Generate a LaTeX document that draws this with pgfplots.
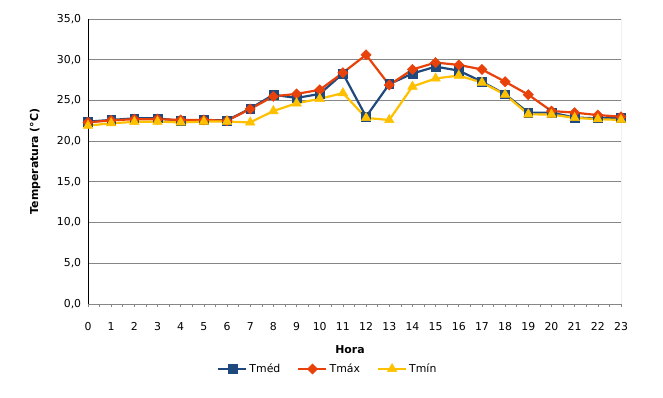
\documentclass[border=0pt]{standalone}
\usepackage{pgfplots}
\pgfplotsset{compat=1.18}
\usepackage{fontspec}
\setmainfont{DejaVu Sans}
\definecolor{cmed}{RGB}{31,73,125}
\definecolor{cmax}{RGB}{232,65,10}
\definecolor{cmin}{RGB}{255,192,0}
\definecolor{gridc}{RGB}{134,134,134}
\begin{document}
\fontsize{10.9}{13}\selectfont
\begin{tikzpicture}
\path[use as bounding box] (-88pt,-94pt) rectangle (575pt,304pt);
\begin{axis}[
  at={(0pt,0pt)}, anchor=south west,
  scale only axis, width=533pt, height=285pt,
  xmin=0, xmax=23, ymin=0, ymax=35,
  xtick={0,...,23}, minor x tick num=1,
  ytick={0,5,...,35},
  axis x line*=bottom, axis y line*=left,
  x axis line style={gridc, line width=0.8pt},
  y axis line style={black, line width=0.8pt},
  tick align=outside,
  major tick length=3pt, minor tick length=3pt,
  xtick style={gridc, line width=0.6pt},
  minor x tick style={gridc, line width=0.6pt},
  ytick style={draw=none},
  ymajorgrids, grid style={gridc, line width=0.8pt},
  /pgf/number format/assume math mode=true,
  yticklabel style={/pgf/number format/.cd, fixed, fixed zerofill, precision=1, use comma},
  xticklabel style={yshift=-12pt},
  xlabel={\textbf{Hora}},
  xlabel style={at={(axis description cs:0.4916,-0.1614)}, anchor=center},
  ylabel={\textbf{Temperatura (°C)}},
  ylabel style={at={(axis description cs:-0.0994,0.5)}, anchor=center},
  legend columns=3,
  legend style={at={(axis description cs:0.450,-0.228)}, anchor=center, draw=none, fill=none,
    /tikz/every even column/.append style={column sep=15pt}},
  legend image code/.code={\draw[mark repeat=2, mark phase=2, #1] plot coordinates {(0pt,0pt) (14pt,0pt) (28pt,0pt)};},
  every axis plot/.append style={line width=2.2pt},
]
\addplot[color=cmed, mark=square*, mark size=4.4pt, mark options={solid, line width=0.5pt}]
 coordinates {(0,22.4)(1,22.6)(2,22.8)(3,22.8)(4,22.5)(5,22.6)(6,22.55)(7,24.0)(8,25.7)(9,25.3)(10,25.8)(11,28.3)(12,23.0)(13,27.0)(14,28.3)(15,29.15)(16,28.66)(17,27.3)(18,25.76)(19,23.5)(20,23.5)(21,22.9)(22,22.8)(23,22.9)};
\addlegendentry{Tméd}
\addplot[color=cmax, mark=square*, mark size=3.6pt, mark options={solid, rotate=45, line width=0.5pt}]
 coordinates {(0,22.3)(1,22.55)(2,22.7)(3,22.7)(4,22.6)(5,22.6)(6,22.5)(7,23.95)(8,25.5)(9,25.8)(10,26.3)(11,28.4)(12,30.6)(13,26.9)(14,28.8)(15,29.65)(16,29.36)(17,28.8)(18,27.3)(19,25.7)(20,23.7)(21,23.5)(22,23.2)(23,23.0)};
\addlegendentry{Tmáx}
\addplot[color=cmin, mark=triangle*, mark size=5.5pt, mark options={solid, line width=0.5pt}]
 coordinates {(0,21.9)(1,22.2)(2,22.36)(3,22.4)(4,22.3)(5,22.4)(6,22.4)(7,22.3)(8,23.7)(9,24.65)(10,25.2)(11,25.9)(12,22.85)(13,22.6)(14,26.7)(15,27.7)(16,28.05)(17,27.2)(18,25.7)(19,23.3)(20,23.26)(21,22.85)(22,22.7)(23,22.6)};
\addlegendentry{Tmín}
\draw[gridc, line width=0.8pt] (rel axis cs:1,0) -- (rel axis cs:1,1);
\end{axis}
\end{tikzpicture}
\end{document}
